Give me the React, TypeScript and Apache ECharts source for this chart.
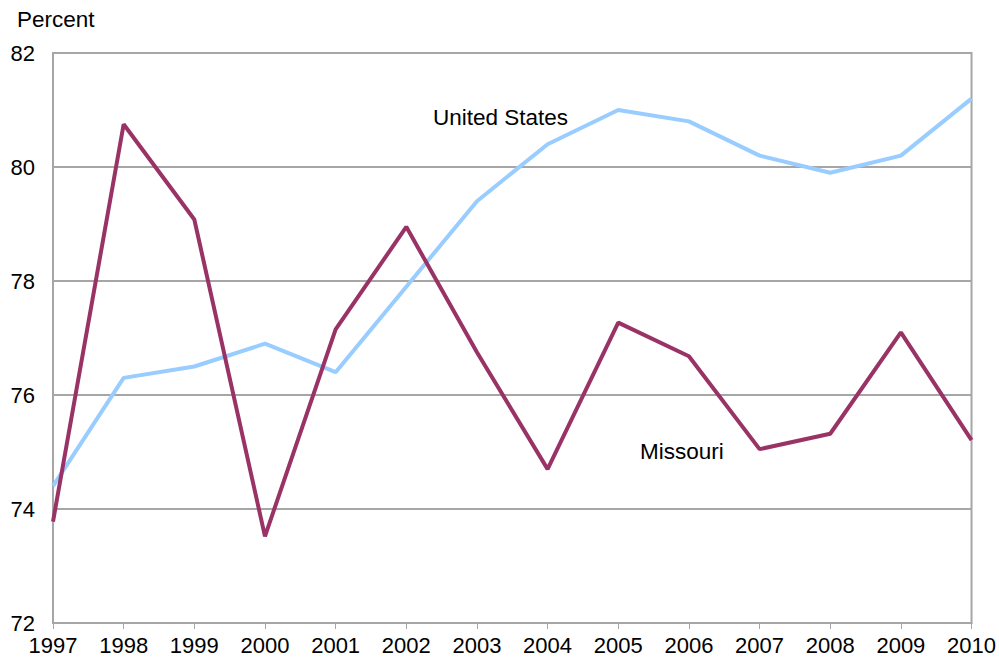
import React, { useEffect, useRef } from "react";
import * as echarts from "echarts";

const years = ["1997","1998","1999","2000","2001","2002","2003","2004","2005","2006","2007","2008","2009","2010"];
const unitedStates = [74.4, 76.3, 76.5, 76.9, 76.4, 77.9, 79.4, 80.4, 81.0, 80.8, 80.2, 79.9, 80.2, 81.2];
const missouri = [73.78, 80.75, 79.08, 73.52, 77.15, 78.95, 76.75, 74.7, 77.27, 76.68, 75.05, 75.32, 77.1, 75.21];

const FONT = "'Liberation Sans', Arial, sans-serif";

export default function App() {
  const ref = useRef<HTMLDivElement>(null);
  useEffect(() => {
    if (!ref.current) return;
    const chart = echarts.init(ref.current, undefined, { renderer: "svg" });
    chart.setOption({
      animation: false,
      backgroundColor: "#ffffff",
      textStyle: { fontFamily: FONT },
      grid: {
        left: 53, right: 26, top: 53, bottom: 37,
        show: true, borderColor: "#a6a6a6", borderWidth: 2, backgroundColor: "transparent",
      },
      xAxis: {
        type: "category",
        data: years,
        boundaryGap: false,
        axisLine: { lineStyle: { color: "#a6a6a6", width: 2 } },
        axisTick: { show: true, length: 6, lineStyle: { color: "#a6a6a6", width: 1 } },
        axisLabel: { color: "#000", fontSize: 22, fontFamily: FONT, margin: 11 },
        splitLine: { show: false },
      },
      yAxis: {
        type: "value",
        min: 72, max: 82, interval: 2,
        axisLine: { show: true, lineStyle: { color: "#a6a6a6", width: 2 } },
        axisTick: { show: false },
        axisLabel: { color: "#000", fontSize: 22, fontFamily: FONT, margin: 18 },
        splitLine: { show: true, lineStyle: { color: "#a6a6a6", width: 2 } },
      },
      graphic: [
        { type: "text", left: 17, top: 8, style: { text: "Percent", fontSize: 22.5, fontFamily: FONT, fill: "#000" } },
        { type: "text", left: 433, top: 106, style: { text: "United States", fontSize: 22.5, fontFamily: FONT, fill: "#000" } },
        { type: "text", left: 640, top: 440, style: { text: "Missouri", fontSize: 22.5, fontFamily: FONT, fill: "#000" } },
      ],
      series: [
        {
          name: "United States", type: "line", data: unitedStates, symbol: "none",
          lineStyle: { color: "#99ccff", width: 4 }, z: 2,
        },
        {
          name: "Missouri", type: "line", data: missouri, symbol: "none",
          lineStyle: { color: "#993366", width: 4 }, z: 3,
        },
      ],
    });
    return () => chart.dispose();
  }, []);
  return <div ref={ref} style={{ width: 999, height: 660, position: "fixed", left: 0, top: 0 }} />;
}
